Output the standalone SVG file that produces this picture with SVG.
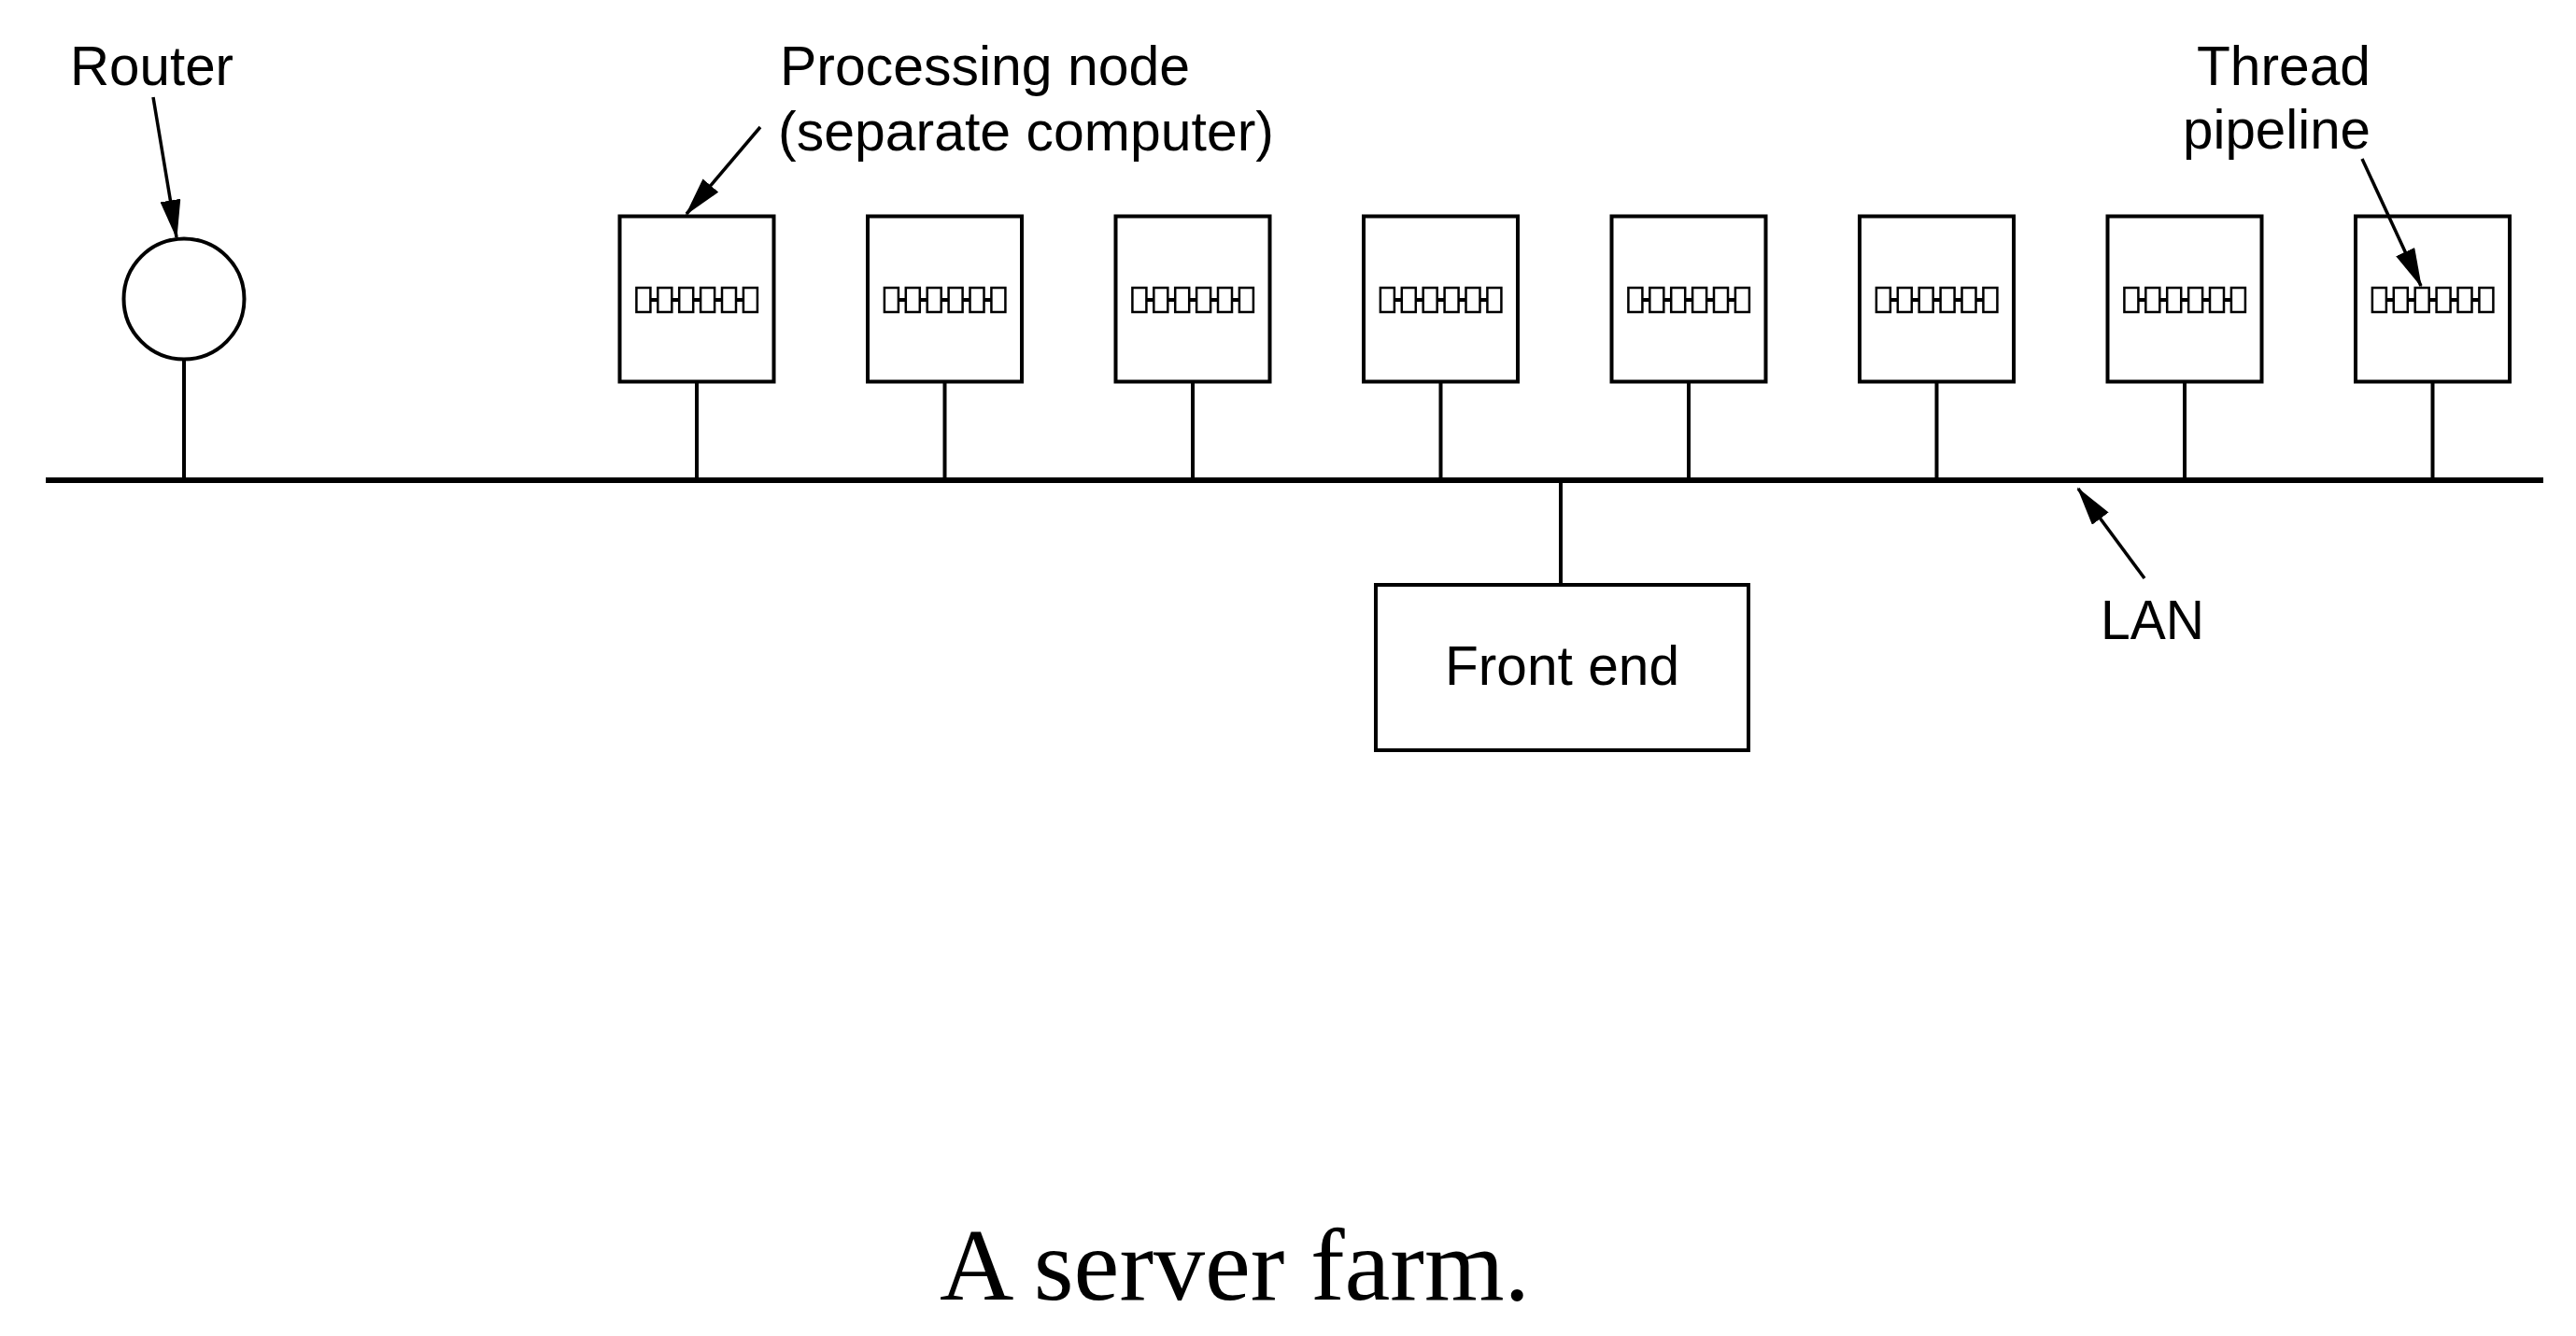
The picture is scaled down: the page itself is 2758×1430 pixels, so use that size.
<svg xmlns="http://www.w3.org/2000/svg" width="2758" height="1430" viewBox="0 0 2758 1430">
<style>
.lbl{font-family:"Liberation Sans",Arial,Helvetica,sans-serif;font-size:60px;fill:#000}
.cap{font-family:"Liberation Serif","Times New Roman",serif;font-size:110px;fill:#000}
.box{fill:#fff;stroke:#000;stroke-width:4}
.ln{stroke:#000;stroke-width:4;fill:none}
.bus{stroke:#000;stroke-width:6;fill:none}
.arr{stroke:#000;stroke-width:3.5;fill:none;marker-end:url(#ah)}
.pl{stroke:#000;stroke-width:4}
.cell{fill:#fff;stroke:#000;stroke-width:2.5}
</style>
<defs>
<marker id="ah" markerUnits="userSpaceOnUse" markerWidth="42" markerHeight="22" refX="40" refY="11" orient="auto" viewBox="0 0 42 22">
<path d="M0,0 L42,11 L0,22 z" fill="#000"/>
</marker>
<g id="pipe">
<line x1="-60" y1="0" x2="60" y2="0" class="pl"/>
<rect class="cell" x="-64.6" y="-13" width="15" height="26"/>
<rect class="cell" x="-41.7" y="-13" width="15" height="26"/>
<rect class="cell" x="-18.8" y="-13" width="15" height="26"/>
<rect class="cell" x="4.1" y="-13" width="15" height="26"/>
<rect class="cell" x="27" y="-13" width="15" height="26"/>
<rect class="cell" x="49.9" y="-13" width="15" height="26"/>
</g>
</defs>
<rect width="2758" height="1430" fill="#fff"/>

<g id="router">
<circle cx="197" cy="320" r="64.5" class="box"/>
</g>

<g id="node1"><rect class="box" x="663.5" y="231.5" width="165" height="177"/><use href="#pipe" x="746" y="321"/></g>
<g id="node2"><rect class="box" x="929" y="231.5" width="165" height="177"/><use href="#pipe" x="1011.5" y="321"/></g>
<g id="node3"><rect class="box" x="1194.5" y="231.5" width="165" height="177"/><use href="#pipe" x="1277" y="321"/></g>
<g id="node4"><rect class="box" x="1460" y="231.5" width="165" height="177"/><use href="#pipe" x="1542.5" y="321"/></g>
<g id="node5"><rect class="box" x="1725.5" y="231.5" width="165" height="177"/><use href="#pipe" x="1808" y="321"/></g>
<g id="node6"><rect class="box" x="1991" y="231.5" width="165" height="177"/><use href="#pipe" x="2073.5" y="321"/></g>
<g id="node7"><rect class="box" x="2256.5" y="231.5" width="165" height="177"/><use href="#pipe" x="2339" y="321"/></g>
<g id="node8"><rect class="box" x="2522" y="231.5" width="165" height="177"/><use href="#pipe" x="2604.5" y="321"/></g>

<g id="frontend">
<rect class="box" x="1473" y="626" width="399" height="177"/>
<text class="lbl" x="1547" y="733" textLength="251" lengthAdjust="spacingAndGlyphs">Front end</text>
</g>

<g id="connectors">
<line class="bus" x1="49" y1="514" x2="2723" y2="514"/>
<line class="ln" x1="197" y1="384" x2="197" y2="514"/>
<line class="ln" x1="746" y1="410" x2="746" y2="514"/>
<line class="ln" x1="1011.5" y1="410" x2="1011.5" y2="514"/>
<line class="ln" x1="1277" y1="410" x2="1277" y2="514"/>
<line class="ln" x1="1542.5" y1="410" x2="1542.5" y2="514"/>
<line class="ln" x1="1808" y1="410" x2="1808" y2="514"/>
<line class="ln" x1="2073.5" y1="410" x2="2073.5" y2="514"/>
<line class="ln" x1="2339" y1="410" x2="2339" y2="514"/>
<line class="ln" x1="2604.5" y1="410" x2="2604.5" y2="514"/>
<line class="ln" x1="1671" y1="514" x2="1671" y2="624"/>
<line class="arr" x1="164" y1="104" x2="189" y2="254"/>
<line class="arr" x1="814" y1="136" x2="735" y2="229"/>
<line class="arr" x1="2529" y1="170" x2="2592" y2="306"/>
<line class="arr" x1="2296" y1="619" x2="2225" y2="523"/>
</g>

<g id="labels">
<text class="lbl" x="75" y="91" textLength="175" lengthAdjust="spacingAndGlyphs">Router</text>
<text class="lbl" x="835" y="91" textLength="439" lengthAdjust="spacingAndGlyphs">Processing node</text>
<text class="lbl" x="833" y="161" textLength="531" lengthAdjust="spacingAndGlyphs">(separate computer)</text>
<text class="lbl" x="2352" y="91" textLength="186" lengthAdjust="spacingAndGlyphs">Thread</text>
<text class="lbl" x="2337" y="159" textLength="201" lengthAdjust="spacingAndGlyphs">pipeline</text>
<text class="lbl" x="2249" y="684" textLength="111" lengthAdjust="spacingAndGlyphs">LAN</text>
<text class="cap" x="1006" y="1391" textLength="632" lengthAdjust="spacingAndGlyphs">A server farm.</text>
</g>
</svg>
